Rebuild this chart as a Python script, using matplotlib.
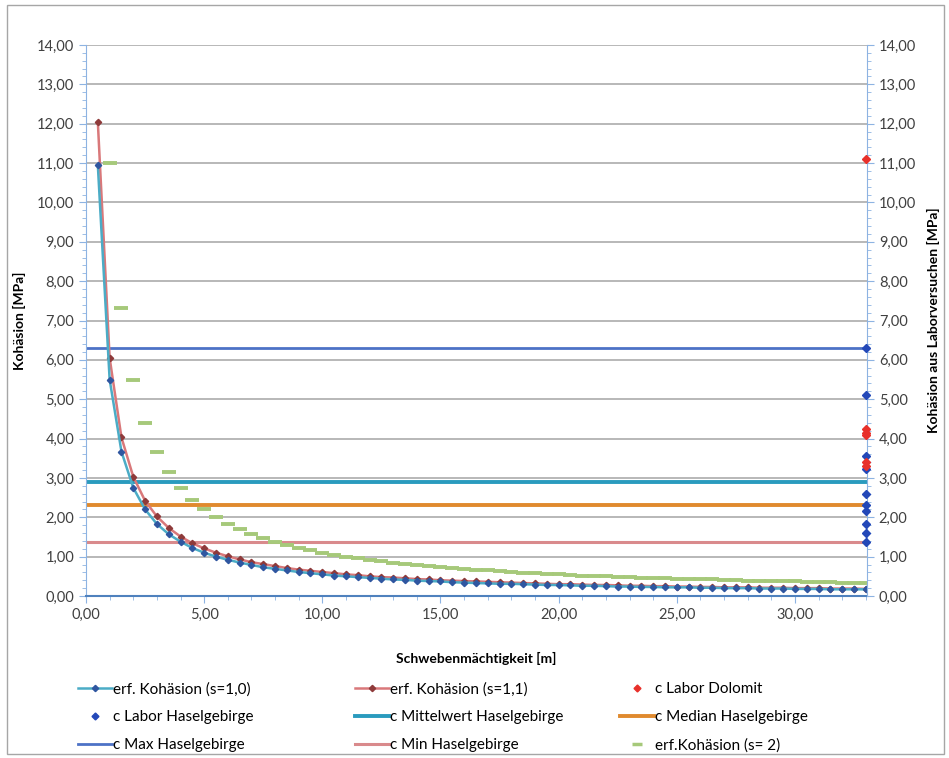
import matplotlib
matplotlib.use('Agg')
import matplotlib.pyplot as plt
from matplotlib.ticker import MultipleLocator, FuncFormatter
from matplotlib.lines import Line2D
from matplotlib.patches import Rectangle

plt.rcParams['font.family'] = ['Lato', 'DejaVu Sans']

# Schwebenmaechtigkeit [m]
h = [0.5, 1.0, 1.5, 2.0, 2.5, 3.0, 3.5, 4.0, 4.5, 5.0, 5.5, 6.0, 6.5, 7.0, 7.5,
     8.0, 8.5, 9.0, 9.5, 10.0, 10.5, 11.0, 11.5, 12.0, 12.5, 13.0, 13.5, 14.0,
     14.5, 15.0, 15.5, 16.0, 16.5, 17.0, 17.5, 18.0, 18.5, 19.0, 19.5, 20.0,
     20.5, 21.0, 21.5, 22.0, 22.5, 23.0, 23.5, 24.0, 24.5, 25.0, 25.5, 26.0,
     26.5, 27.0, 27.5, 28.0, 28.5, 29.0, 29.5, 30.0, 30.5, 31.0, 31.5, 32.0,
     32.5, 33.0]

# erf. Kohaesion (s=1,0)
c_s10 = [10.95, 5.50, 3.67, 2.75, 2.20, 1.83, 1.57, 1.38, 1.22, 1.10, 1.00, 0.92,
         0.85, 0.79, 0.73, 0.69, 0.65, 0.61, 0.58, 0.55, 0.52, 0.50, 0.48, 0.46,
         0.44, 0.42, 0.41, 0.39, 0.38, 0.37, 0.35, 0.34, 0.33, 0.32, 0.31, 0.31,
         0.30, 0.29, 0.28, 0.28, 0.27, 0.26, 0.26, 0.25, 0.24, 0.24, 0.23, 0.23,
         0.22, 0.22, 0.22, 0.21, 0.21, 0.20, 0.20, 0.20, 0.19, 0.19, 0.19, 0.18,
         0.18, 0.18, 0.17, 0.17, 0.17, 0.17]

# erf. Kohaesion (s=1,1)
c_s11 = [12.05, 6.05, 4.03, 3.03, 2.42, 2.02, 1.73, 1.51, 1.34, 1.21, 1.10, 1.01,
         0.93, 0.86, 0.81, 0.76, 0.71, 0.67, 0.64, 0.61, 0.58, 0.55, 0.53, 0.50,
         0.48, 0.47, 0.45, 0.43, 0.42, 0.40, 0.39, 0.38, 0.37, 0.36, 0.35, 0.34,
         0.33, 0.32, 0.31, 0.30, 0.30, 0.29, 0.28, 0.28, 0.27, 0.26, 0.26, 0.25,
         0.25, 0.24, 0.24, 0.23, 0.23, 0.22, 0.22, 0.22, 0.21, 0.21, 0.21, 0.20,
         0.20, 0.20, 0.19, 0.19, 0.19, 0.18]

# erf. Kohaesion (s=2), ab 1,0 m
h_s2 = h[1:]
c_s2 = [11.00, 7.33, 5.50, 4.40, 3.67, 3.14, 2.75, 2.44, 2.20, 2.00, 1.83, 1.69,
        1.57, 1.47, 1.38, 1.29, 1.22, 1.16, 1.10, 1.05, 1.00, 0.96, 0.92, 0.88,
        0.85, 0.81, 0.79, 0.76, 0.73, 0.71, 0.69, 0.67, 0.65, 0.63, 0.61, 0.59,
        0.58, 0.56, 0.55, 0.54, 0.52, 0.51, 0.50, 0.49, 0.48, 0.47, 0.46, 0.45,
        0.44, 0.43, 0.42, 0.42, 0.41, 0.40, 0.39, 0.39, 0.38, 0.37, 0.37, 0.36,
        0.35, 0.35, 0.34, 0.34, 0.33]

# Laborwerte (rechte Achse)
lab_dolomit = [11.10, 4.25, 4.15, 4.08, 3.40, 3.30]
lab_hasel = [6.30, 5.10, 3.55, 3.22, 2.60, 2.32, 2.15, 1.83, 1.60, 1.38]
lab_x = 33.0

# Kennwerte Haselgebirge
c_max = 6.30
c_mittel = 2.90
c_median = 2.30
c_min = 1.38

col_s10 = '#4BACC6'
col_s10_m = '#2F56A0'
col_s11 = '#D9787A'
col_s11_m = '#8E3A3A'
col_mittel = '#2A9BBE'
col_median = '#E08A2E'
col_max = '#4D72C6'
col_min = '#D98A8C'
col_s2 = '#A6C97A'
axis_col = '#8DB3E2'


def de_fmt(v, pos):
    return ('%.2f' % v).replace('.', ',')


fig = plt.figure(figsize=(9.49, 7.58), dpi=100)
ax = fig.add_axes([86 / 949, 1 - 596 / 758, 781 / 949, 551 / 758])
ax2 = ax.twinx()

ax.set_xlim(0, 33.05)
ax.set_ylim(0, 14)
ax2.set_ylim(0, 14)

# Gitterlinien
for v in range(1, 15):
    ax.axhline(v, color='#B8B8B8', lw=1.4, zorder=0)

ax.plot([0, 33.05], [c_max] * 2, color=col_max, lw=2, zorder=2)
ax.plot([0, 33.05], [c_min] * 2, color=col_min, lw=2.2, zorder=2)
ax.plot([0, 33.05], [c_mittel] * 2, color=col_mittel, lw=2.8, zorder=2)
ax.plot([0, 33.05], [c_median] * 2, color=col_median, lw=2.8, zorder=2)

ax.plot(h_s2, c_s2, ls='none', marker='_', ms=10, mew=2.8, color=col_s2, zorder=3)
ax.plot(h, c_s11, color=col_s11, lw=1.8, marker='D', ms=3.2, mfc=col_s11_m,
        mec=col_s11_m, zorder=4)
ax.plot(h, c_s10, color=col_s10, lw=1.8, marker='D', ms=3.2, mfc=col_s10_m,
        mec=col_s10_m, zorder=4)

ax2.plot([lab_x] * len(lab_hasel), lab_hasel, ls='none', marker='D', ms=4,
         color='#2348B8', clip_on=False, zorder=5)
ax2.plot([lab_x] * len(lab_dolomit), lab_dolomit, ls='none', marker='D', ms=4,
         color='#E8302A', clip_on=False, zorder=5)

# Achsen
ax.xaxis.set_major_locator(MultipleLocator(5))
ax.xaxis.set_minor_locator(MultipleLocator(1))
ax.yaxis.set_major_locator(MultipleLocator(1))
ax.yaxis.set_minor_locator(MultipleLocator(0.2))
ax2.yaxis.set_major_locator(MultipleLocator(1))
ax2.yaxis.set_minor_locator(MultipleLocator(0.2))
for a in (ax, ax2):
    a.xaxis.set_major_formatter(FuncFormatter(de_fmt))
    a.yaxis.set_major_formatter(FuncFormatter(de_fmt))
    for s in a.spines.values():
        s.set_visible(False)

ax.spines['left'].set_visible(True)
ax.spines['left'].set_color(axis_col)
ax.spines['bottom'].set_visible(True)
ax.spines['bottom'].set_color('#4F81BD')
ax.spines['bottom'].set_linewidth(1.5)
ax2.spines['right'].set_visible(True)
ax2.spines['right'].set_color(axis_col)

ax.tick_params(axis='both', which='major', length=5, color=axis_col,
               labelsize=10.5, labelcolor='#404040')
ax.tick_params(axis='both', which='minor', length=3, color=axis_col)
ax2.tick_params(axis='y', which='major', length=5, color=axis_col,
                labelsize=10.5, labelcolor='#404040')
ax2.tick_params(axis='y', which='minor', length=3, color=axis_col)

ax.set_ylabel('Kohäsion [MPa]', fontsize=10, fontweight='bold', labelpad=8)
ax2.set_ylabel('Kohäsion aus Laborversuchen [MPa]', fontsize=10,
               fontweight='bold', labelpad=8)
ax.set_xlabel('Schwebenmächtigkeit [m]', fontsize=10, fontweight='bold',
              labelpad=22)

# Legende unter dem Diagramm, drei Spalten
h_s10 = Line2D([], [], color=col_s10, lw=1.8, marker='D', ms=3.2,
               mfc=col_s10_m, mec=col_s10_m)
h_s11 = Line2D([], [], color=col_s11, lw=1.8, marker='D', ms=3.2,
               mfc=col_s11_m, mec=col_s11_m)
h_dol = Line2D([], [], ls='none', marker='D', ms=3.5, color='#E8302A')
h_has = Line2D([], [], ls='none', marker='D', ms=3.5, color='#2348B8')
h_mit = Line2D([], [], color=col_mittel, lw=2.8)
h_med = Line2D([], [], color=col_median, lw=2.8)
h_max = Line2D([], [], color=col_max, lw=2)
h_min = Line2D([], [], color=col_min, lw=2.2)
h_s2l = Line2D([], [], ls='none', marker='_', ms=7, mew=2.5, color=col_s2)

columns = [
    ([h_s10, h_has, h_max],
     ['erf. Kohäsion (s=1,0)', 'c Labor Haselgebirge', 'c Max Haselgebirge'], 78),
    ([h_s11, h_mit, h_min],
     ['erf. Kohäsion (s=1,1)', 'c Mittelwert Haselgebirge', 'c Min Haselgebirge'], 355),
    ([h_dol, h_med, h_s2l],
     ['c Labor Dolomit', 'c Median Haselgebirge', 'erf.Kohäsion (s= 2)'], 620),
]
for handles, labels, x0 in columns:
    fig.legend(handles, labels, loc='upper left',
               bbox_to_anchor=(x0 / 949, 1 - 682 / 758), frameon=False,
               fontsize=11, handlelength=2.2, handletextpad=0.1,
               labelspacing=0.92, borderpad=0, borderaxespad=0)

fig.patches.append(Rectangle((7 / 949, 4 / 758), 937 / 949, 749 / 758,
                             transform=fig.transFigure, fill=False,
                             edgecolor='#A6A6A6', lw=1))

fig.savefig('out.png', dpi=100)
